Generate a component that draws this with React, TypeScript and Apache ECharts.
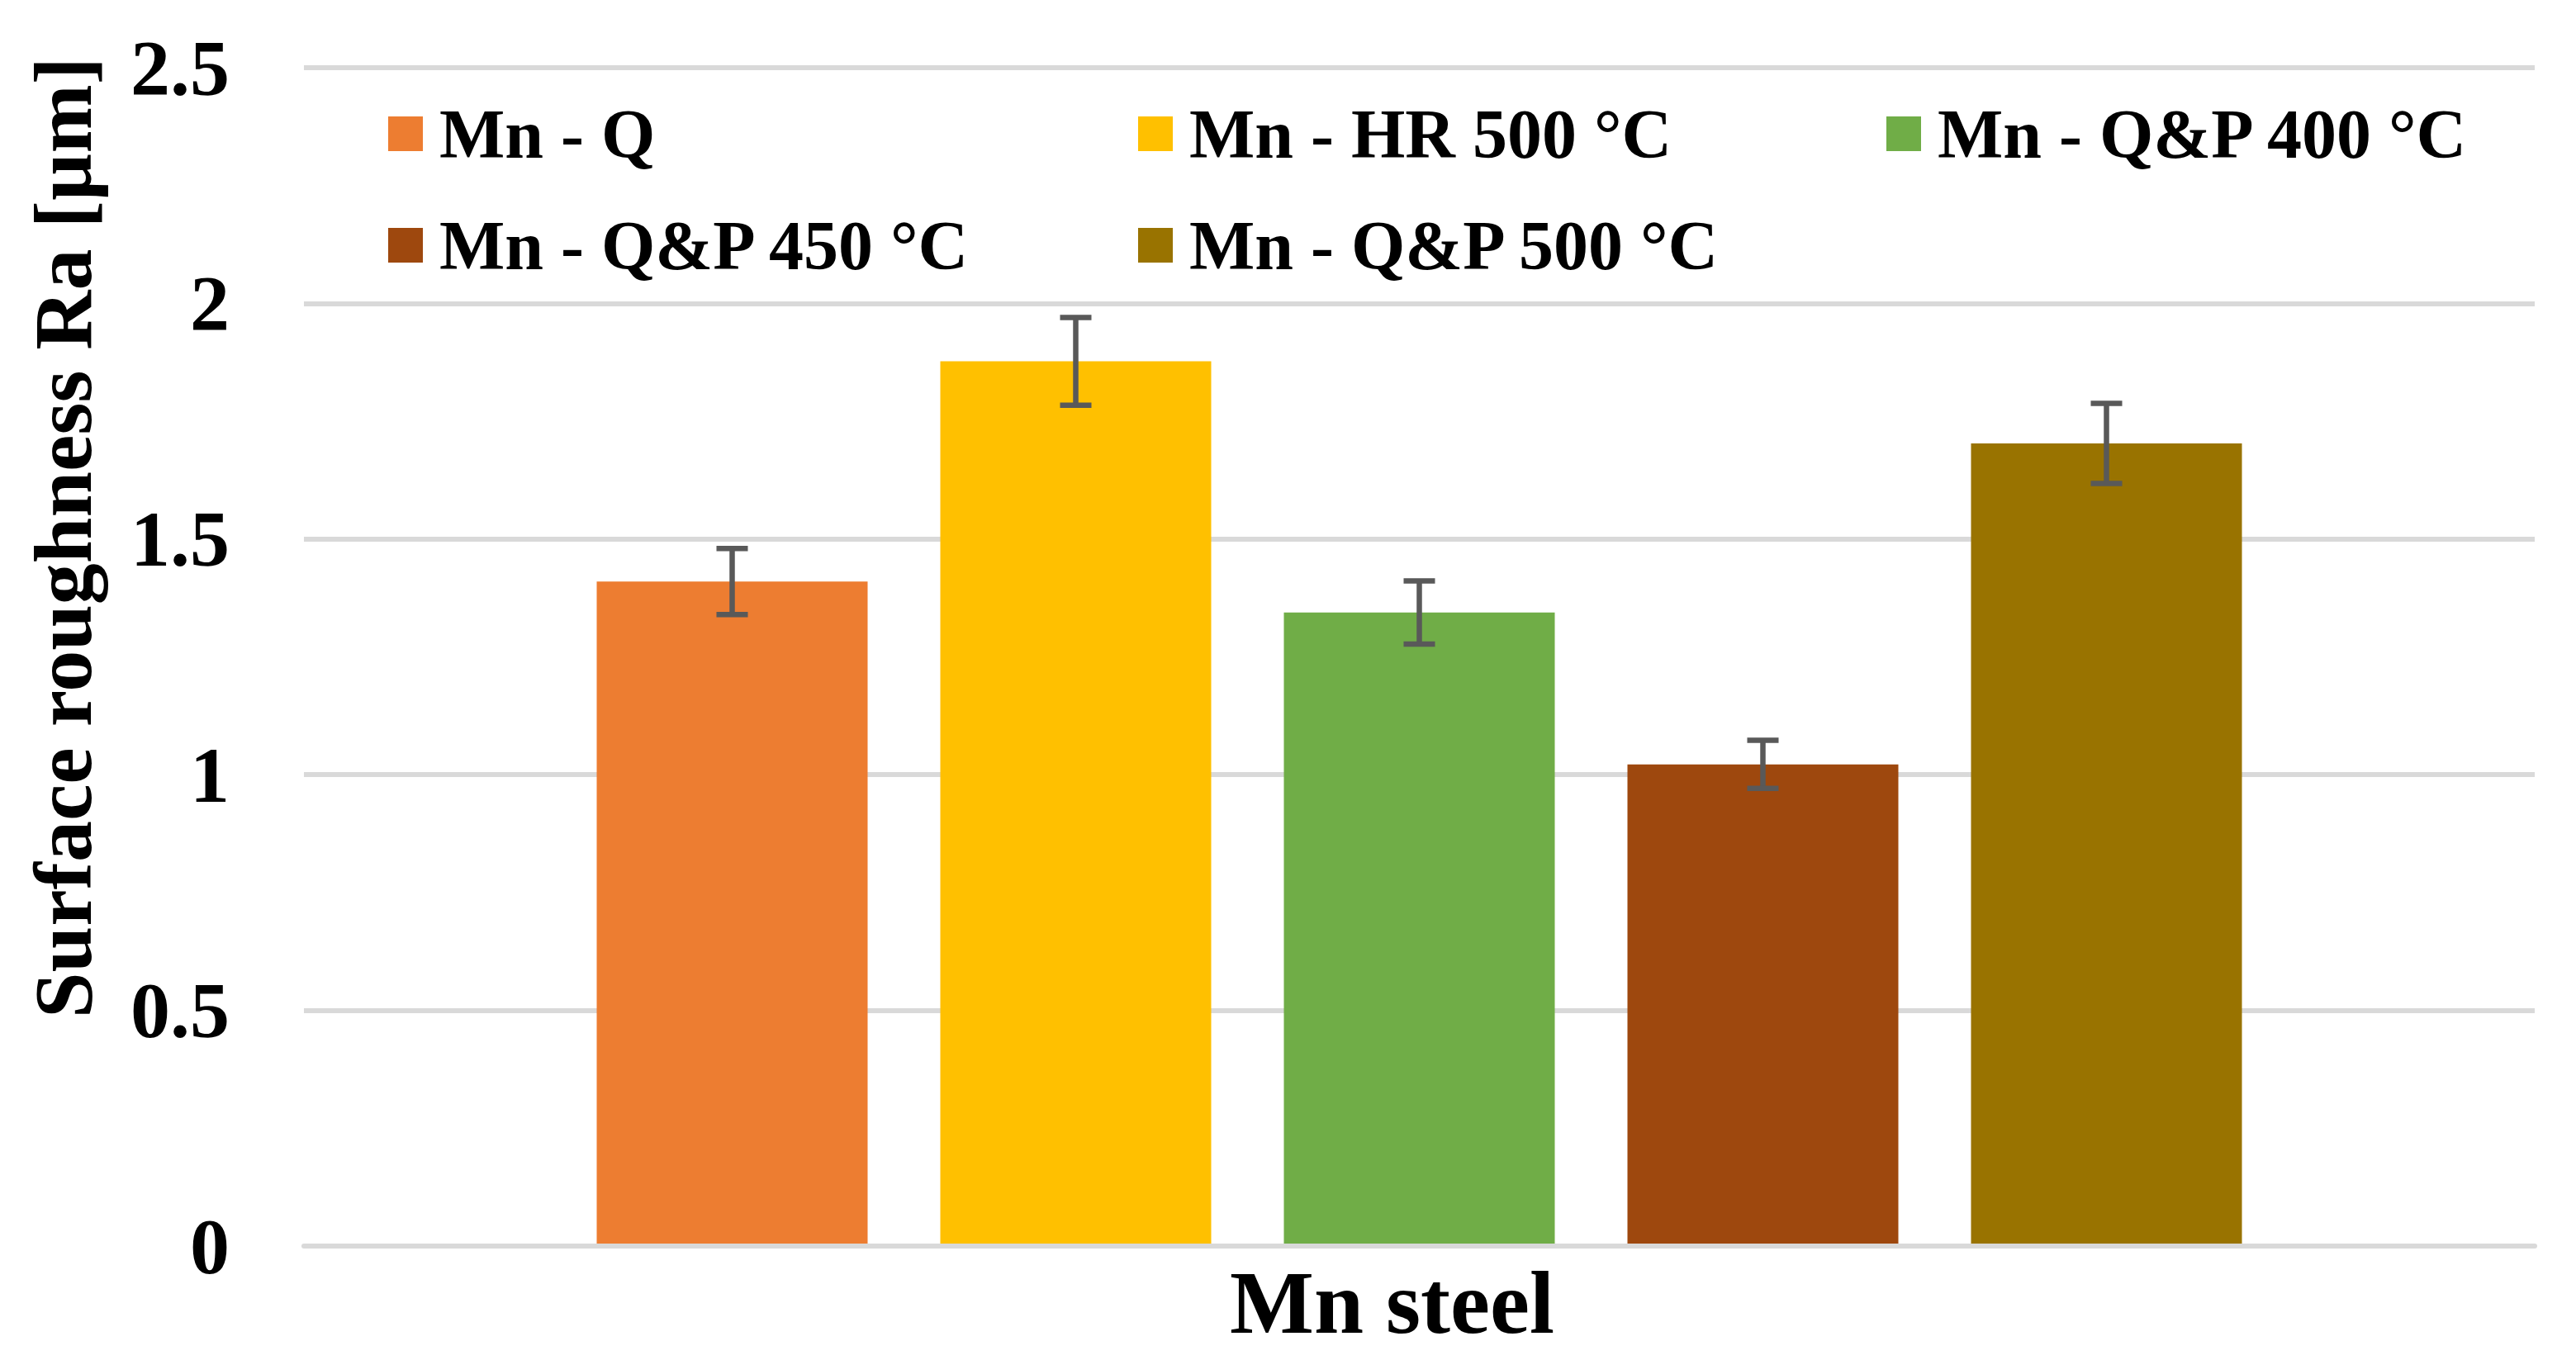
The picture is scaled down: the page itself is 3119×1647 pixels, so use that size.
import React, { useEffect, useRef } from "react";
import * as echarts from "echarts";

const categories = ["Mn steel"];
const seriesNames = [
  "Mn - Q",
  "Mn - HR 500 °C",
  "Mn - Q&P 400 °C",
  "Mn - Q&P 450 °C",
  "Mn - Q&P 500 °C",
];
const roughness = [1.41, 1.877, 1.344, 1.022, 1.703];
const roughnessErr = [0.07, 0.093, 0.067, 0.051, 0.085];
const seriesColors = ["#ED7D31", "#FFC000", "#70AD47", "#9E480E", "#997300"];
const yTickMin = 0;
const yTickMax = 2.5;
const yTickStep = 0.5;
const yAxisTitle = "Surface roughness Ra [µm]";

const FONT = '"Liberation Serif", "Times New Roman", serif';
const BAR_W = 328;
const BAR_GAP = 88;

export default function App() {
  const ref = useRef<HTMLDivElement>(null);

  useEffect(() => {
    if (!ref.current) return;
    const chart = echarts.init(ref.current, null, { renderer: "svg" });

    const barSeries = seriesNames.map((name, i) => ({
      name,
      type: "bar",
      data: [roughness[i]],
      barWidth: BAR_W,
      barGap: `${(BAR_GAP / BAR_W) * 100}%`,
      itemStyle: { color: seriesColors[i] },
      z: 2,
    }));

    const errSeries = seriesNames.map((name, i) => {
      const offset = (i - (seriesNames.length - 1) / 2) * (BAR_W + BAR_GAP);
      return {
        name: "err-" + name,
        type: "custom",
        z: 5,
        data: [[0, roughness[i], roughnessErr[i]]],
        encode: { x: 0, y: 1 },
        renderItem: (_params: any, api: any) => {
          const v = api.value(1);
          const e = api.value(2);
          const top = api.coord([api.value(0), v + e]);
          const bot = api.coord([api.value(0), v - e]);
          const x = top[0] + offset;
          const style = { stroke: "#595959", lineWidth: 6.5 };
          return {
            type: "group",
            children: [
              { type: "line", shape: { x1: x, y1: top[1], x2: x, y2: bot[1] }, style },
              { type: "line", shape: { x1: x - 19, y1: top[1], x2: x + 19, y2: top[1] }, style },
              { type: "line", shape: { x1: x - 19, y1: bot[1], x2: x + 19, y2: bot[1] }, style },
            ],
          };
        },
      };
    });

    const legendText = {
      fontFamily: FONT,
      fontWeight: "bold",
      fontSize: 84,
      lineHeight: 84,
      color: "#000",
      padding: [0, 0, 0, 15],
    };
    const legendBase = {
      orient: "vertical",
      top: 120,
      padding: 0,
      itemWidth: 42,
      itemHeight: 42,
      itemGap: 51,
      icon: "rect",
      selectedMode: false,
      textStyle: legendText,
    };

    chart.setOption({
      animation: false,
      backgroundColor: "#fff",
      legend: [
        { ...legendBase, left: 470, data: [seriesNames[0], seriesNames[3]] },
        { ...legendBase, left: 1378, data: [seriesNames[1], seriesNames[4]] },
        { ...legendBase, left: 2284, data: [seriesNames[2]] },
      ],
      grid: { left: 368, right: 50, top: 82, bottom: 138, containLabel: false },
      xAxis: {
        type: "category",
        data: categories,
        z: 3,
        axisLine: { show: true, lineStyle: { color: "#D9D9D9", width: 6 } },
        axisTick: { show: false },
        axisLabel: {
          margin: 14,
          fontFamily: FONT,
          fontWeight: "bold",
          fontSize: 108,
          color: "#000",
          padding: [0, 66, 0, 0],
        },
      },
      yAxis: {
        type: "value",
        min: yTickMin,
        max: yTickMax,
        interval: yTickStep,
        axisLine: { show: false },
        axisTick: { show: false },
        splitLine: { show: true, lineStyle: { color: "#D9D9D9", width: 6 } },
        axisLabel: {
          margin: 90,
          fontFamily: FONT,
          fontWeight: "bold",
          fontSize: 96,
          color: "#000",
        },
      },
      graphic: [
        {
          type: "text",
          x: 76,
          y: 651,
          rotation: Math.PI / 2,
          style: {
            text: yAxisTitle,
            fontFamily: FONT,
            fontWeight: "bold",
            fontSize: 100,
            fill: "#000",
            textAlign: "center",
            textVerticalAlign: "middle",
          },
        },
      ],
      series: [...barSeries, ...errSeries],
    });

    return () => chart.dispose();
  }, []);

  return (
    <div
      ref={ref}
      style={{ position: "fixed", left: 0, top: 0, width: "100vw", height: "100vh" }}
    />
  );
}
